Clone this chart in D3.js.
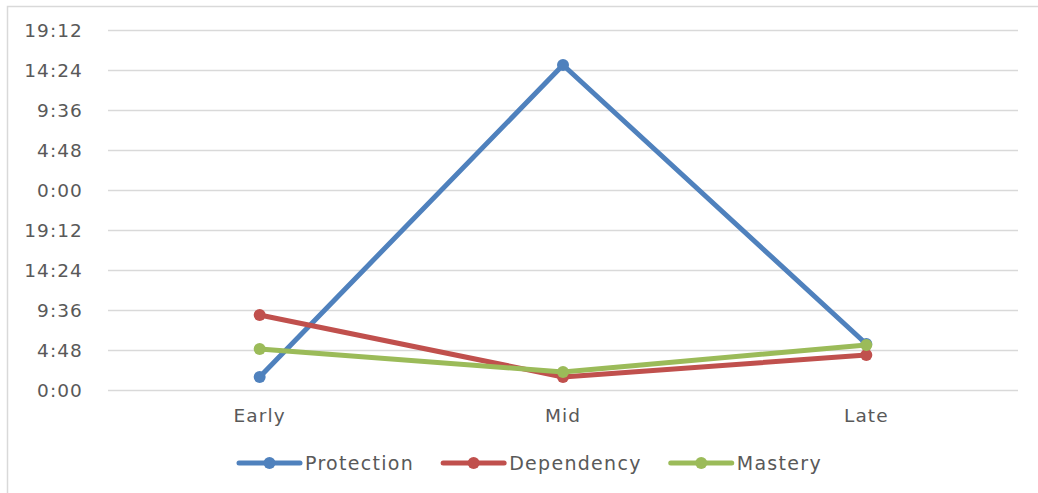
<!DOCTYPE html>
<html>
<head>
<meta charset="utf-8">
<script src="https://cdn.jsdelivr.net/npm/d3@7/dist/d3.min.js"></script>
<style>
  html, body { margin: 0; padding: 0; background: #fff; }
  svg { display: block; }
  text { font-family: "DejaVu Sans", sans-serif; font-size: 18.5px; fill: #595959; letter-spacing: 1.1px; }
  .legend text { font-size: 19px; letter-spacing: 1.3px; }
</style>
</head>
<body>
<svg id="chart" width="1038" height="493"></svg>
<script>
// Phases on the x axis
const categories = ["Early", "Mid", "Late"];

// Durations in days (axis shows them as h:mm of the day)
const protection = [0.065, 1.625, 0.23];
const dependency = [0.375, 0.065, 0.175];
const mastery    = [0.205, 0.09, 0.225];

const seriesNames  = ["Protection", "Dependency", "Mastery"];
const seriesColors = ["#4F81BD", "#C0504D", "#9BBB59"];
const seriesValues = [protection, dependency, mastery];

// Y tick positions in days (every 4:48)
const yTicks = [0, 0.2, 0.4, 0.6, 0.8, 1.0, 1.2, 1.4, 1.6, 1.8];

const fmtTime = v => {
  const mins = Math.round(v * 1440) % 1440;
  const h = Math.floor(mins / 60), m = mins % 60;
  return h + ":" + String(m).padStart(2, "0");
};

const svg = d3.select("#chart");
const W = 1038, H = 493;

// chart frame
svg.append("rect")
  .attr("x", 7.5).attr("y", 6.5)
  .attr("width", W + 10).attr("height", H + 10)
  .attr("fill", "none").attr("stroke", "#d9d9d9").attr("stroke-width", 1.5);

const plot = { left: 108, right: 1018, top: 30, bottom: 390 };

const x = d3.scaleBand().domain(categories).range([plot.left, plot.right]);
const y = d3.scaleLinear().domain([0, 1.8]).range([plot.bottom, plot.top]);

// gridlines + y labels
const yAxis = d3.axisLeft(y).tickValues(yTicks).tickFormat(fmtTime)
  .tickSize(-(plot.right - plot.left)).tickPadding(25);
const gy = svg.append("g").attr("transform", `translate(${plot.left},0)`).call(yAxis);
gy.select(".domain").remove();
gy.selectAll(".tick line").attr("stroke", "#d9d9d9").attr("stroke-width", 1.5);
gy.selectAll(".tick text").attr("fill", "#595959").attr("dy", "0.36em");

// x labels
const xAxis = d3.axisBottom(x).tickSize(0).tickPadding(19);
const gx = svg.append("g").attr("transform", `translate(0,${plot.bottom})`).call(xAxis);
gx.select(".domain").remove();
gx.selectAll(".tick text").attr("fill", "#595959").attr("dy", "0.71em");

// series lines and markers
const line = d3.line()
  .x((d, i) => x(categories[i]) + x.bandwidth() / 2)
  .y(d => y(d));

seriesValues.forEach((vals, s) => {
  svg.append("path")
    .datum(vals)
    .attr("d", line)
    .attr("fill", "none")
    .attr("stroke", seriesColors[s])
    .attr("stroke-width", 5)
    .attr("stroke-linejoin", "round")
    .attr("stroke-linecap", "round");
  svg.selectAll(null)
    .data(vals)
    .enter().append("circle")
    .attr("cx", (d, i) => x(categories[i]) + x.bandwidth() / 2)
    .attr("cy", d => y(d))
    .attr("r", 6)
    .attr("fill", seriesColors[s]);
});

// legend
const legend = svg.append("g").attr("class", "legend").attr("transform", "translate(239,463)");
let lx = 0;
seriesNames.forEach((name, s) => {
  const g = legend.append("g").attr("transform", `translate(${lx},0)`);
  g.append("line").attr("x1", 0).attr("x2", 61).attr("y1", 0).attr("y2", 0)
    .attr("stroke", seriesColors[s]).attr("stroke-width", 5).attr("stroke-linecap", "round");
  g.append("circle").attr("cx", 30.5).attr("cy", 0).attr("r", 6).attr("fill", seriesColors[s]);
  const t = g.append("text").attr("x", 66).attr("y", 0).attr("dy", "0.36em").text(name);
  lx += 66 + t.node().getComputedTextLength() + 29;
});
</script>
</body>
</html>
